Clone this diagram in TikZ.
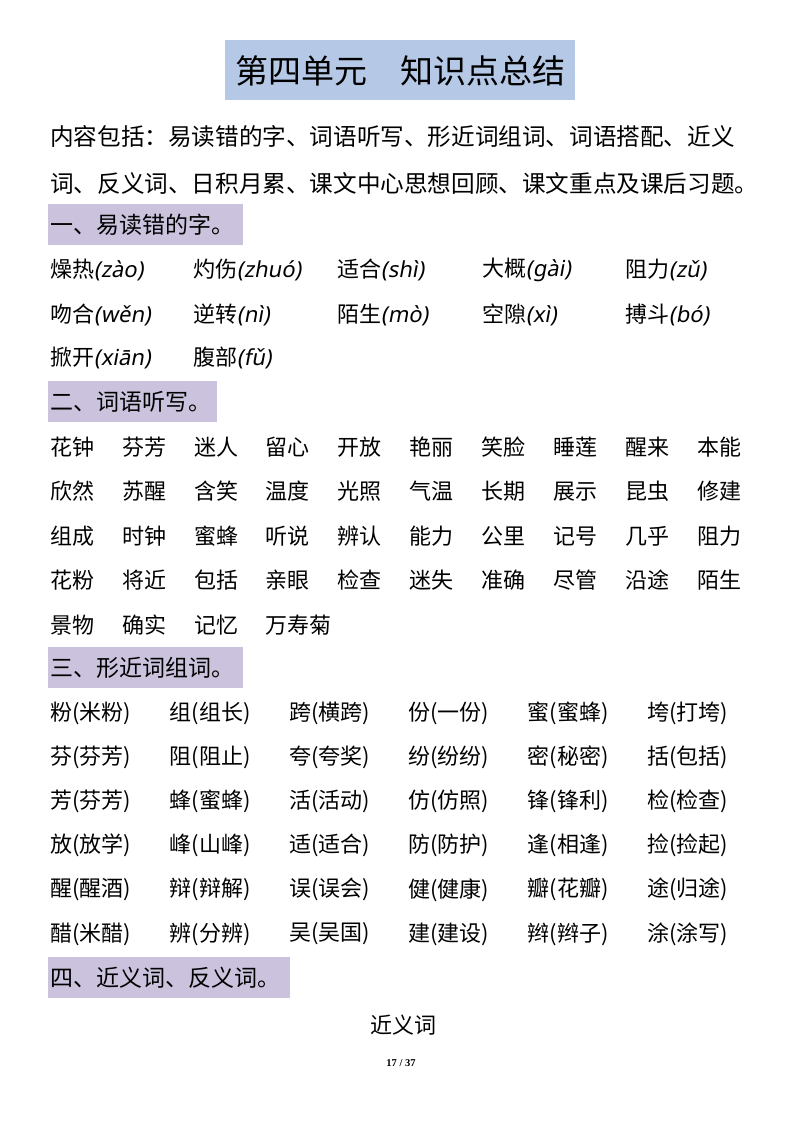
\documentclass[tikz,border=0pt]{standalone}
\usepackage{fontspec}
\setmainfont{Noto Sans CJK SC}
\newfontfamily\pyfont[FakeSlant=0.18]{Noto Sans}
\newfontfamily\pagefont{Liberation Serif}
\definecolor{titleblue}{HTML}{B5C8E5}
\definecolor{lav}{HTML}{CBC3DD}
\newcommand{\py}[1]{{\pyfont(#1)}}
\begin{document}
\begin{tikzpicture}[x=1pt,y=-1pt,
  body/.style={anchor=west,inner sep=0pt,font=\fontsize{22}{24}\selectfont},
  hdr/.style={anchor=west,inner sep=0pt,font=\fontsize{23}{25}\selectfont}]
\useasboundingbox (0,0) rectangle (800,1132);
\fill[white] (0,0) rectangle (800,1132);
% title
\fill[titleblue] (225,40) rectangle (575,100);
\node[inner sep=0pt,font=\fontsize{33}{36}\selectfont] (title) at (400,71) {第四单元\hspace{1em}知识点总结};
% intro
\node[body,font=\fontsize{23.6}{26}\selectfont] (intro1) at (50,137) {内容包括：易读错的字、词语听写、形近词组词、词语搭配、近义};
\node[body,font=\fontsize{23.6}{26}\selectfont] (intro2) at (50,183) {词、反义词、日积月累、课文中心思想回顾、课文重点及课后习题。};
% header 1
\fill[lav] (48,204) rectangle (243,245);
\node[hdr] (h1) at (50,225) {一、易读错的字。};
\foreach \t/\x/\y [count=\i] in {
 {燥热\py{zào}}/50/270, {灼伤\py{zhuó}}/193/270, {适合\py{shì}}/337/270, {大概\py{gài}}/482/270, {阻力\py{zǔ}}/625/270,
 {吻合\py{wěn}}/50/315, {逆转\py{nì}}/193/315, {陌生\py{mò}}/337/315, {空隙\py{xì}}/482/315, {搏斗\py{bó}}/625/315,
 {掀开\py{xiān}}/50/358, {腹部\py{fǔ}}/193/358}
 \node[body] (p\i) at (\x,\y) {\t};
% header 2
\fill[lav] (48,381) rectangle (217,422);
\node[hdr] (h2) at (50,402) {二、词语听写。};
\foreach \row [count=\r] in {
 {花钟,芬芳,迷人,留心,开放,艳丽,笑脸,睡莲,醒来,本能},
 {欣然,苏醒,含笑,温度,光照,气温,长期,展示,昆虫,修建},
 {组成,时钟,蜜蜂,听说,辨认,能力,公里,记号,几乎,阻力},
 {花粉,将近,包括,亲眼,检查,迷失,准确,尽管,沿途,陌生},
 {景物,确实,记忆,万寿菊}}
 \foreach \w [count=\c] in \row
  \node[body] (w\r-\c) at ({50+71.9*(\c-1)},{447+44.5*(\r-1)}) {\w};
% header 3
\fill[lav] (48,647) rectangle (243,688);
\node[hdr] (h3) at (50,668) {三、形近词组词。};
\foreach \row [count=\r] in {
 {粉(米粉),组(组长),跨(横跨),份(一份),蜜(蜜蜂),垮(打垮)},
 {芬(芬芳),阻(阻止),夸(夸奖),纷(纷纷),密(秘密),括(包括)},
 {芳(芬芳),蜂(蜜蜂),活(活动),仿(仿照),锋(锋利),检(检查)},
 {放(放学),峰(山峰),适(适合),防(防护),逢(相逢),捡(捡起)},
 {醒(醒酒),辩(辩解),误(误会),健(健康),瓣(花瓣),途(归途)},
 {醋(米醋),辨(分辨),吴(吴国),建(建设),辫(辫子),涂(涂写)}}
 \foreach \w [count=\c] in \row
  \node[body] (g\r-\c) at ({50+119.4*(\c-1)},{713+44.2*(\r-1)}) {\w};
% header 4
\fill[lav] (48,957) rectangle (290,998);
\node[hdr] (h4) at (50,978) {四、近义词、反义词。};
\node[inner sep=0pt,font=\fontsize{22}{24}\selectfont] (jyc) at (403,1025) {近义词};
\node[inner sep=0pt,font=\pagefont\bfseries\fontsize{10.5}{12}\selectfont] (pg) at (401,1063) {17 / 37};
\end{tikzpicture}
\end{document}
